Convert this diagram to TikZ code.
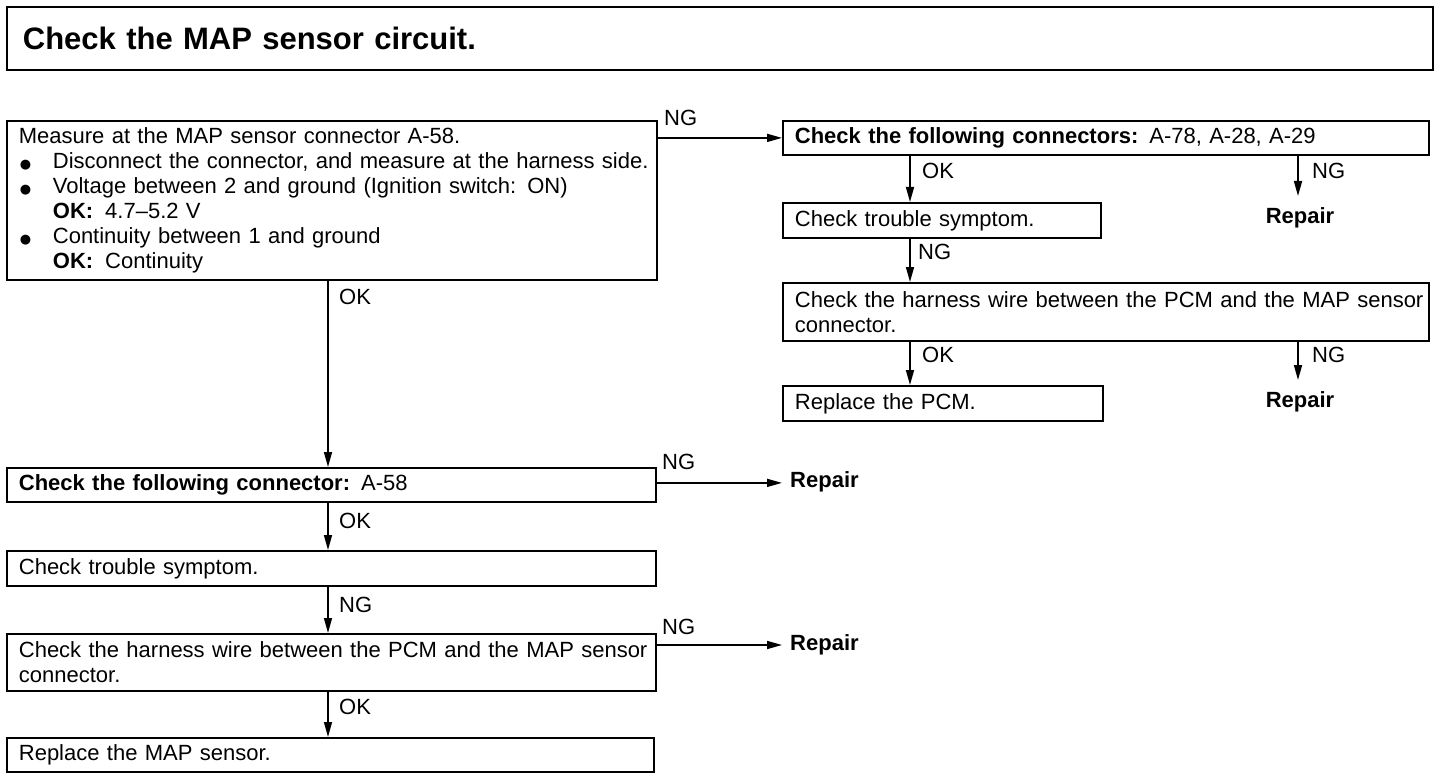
\documentclass[tikz,border=0pt]{standalone}
\usepackage{fontspec}
\setmainfont{Liberation Sans}[WordSpace=2]
\newfontfamily\dv{DejaVu Sans}
\usetikzlibrary{arrows.meta}
\newcommand\fs{\fontsize{22}{25}\selectfont}
\newcommand\bul{\makebox[34pt][l]{\hspace{1pt}{\dv\fontsize{13}{13}\selectfont ●}}}
\newcommand\okind{\hspace*{34pt}}
\tikzset{
  box/.style={draw, line width=1.8pt, anchor=north west, inner xsep=12pt, inner ysep=0pt, align=left, font=\fs},
  arr/.style={line width=1.6pt, -{Triangle[length=15pt,width=8pt]}},
  lbl/.style={font=\fs, inner sep=0pt, anchor=west},
  rep/.style={font=\fs\bfseries, inner sep=0pt, text height=15pt, text depth=4pt},
}
\begin{document}
\begin{tikzpicture}[x=1pt,y=-1pt]
\useasboundingbox (0,0) rectangle (1440,778);
\node[box, font=\fontsize{31}{32}\selectfont\bfseries, inner xsep=16pt, minimum width=1426pt, minimum height=63pt, text width=1394pt] (title) at (6,6) {Check the MAP sensor circuit.};
% left column
\node[box, minimum width=650pt, minimum height=159pt, text width=626pt] (b1) at (6,120) {\mbox{Measure at the MAP sensor connector A-58.}\\
\mbox{\bul Disconnect the connector, and measure at the harness side.}\\
\mbox{\bul Voltage between 2 and ground (Ignition switch: ON)}\\
\mbox{\okind\textbf{OK:}\hspace{12pt}4.7–5.2 V}\\
\mbox{\bul Continuity between 1 and ground}\\
\mbox{\okind\textbf{OK:}\hspace{12pt}Continuity}};
\node[box, minimum width=649pt, minimum height=34pt, text width=625pt] (b6) at (6,467) {\textbf{Check the following connector:} A-58};
\node[box, minimum width=649pt, minimum height=35pt, text width=625pt] (b7) at (6,550) {Check trouble symptom.};
\node[box, minimum width=649pt, minimum height=57pt, text width=625pt] (b8) at (6,633) {\mbox{Check the harness wire between the PCM and the MAP sensor}\\connector.};
\node[box, minimum width=647pt, minimum height=34pt, text width=623pt] (b9) at (6,737) {Replace the MAP sensor.};
% right column
\node[box, minimum width=646pt, minimum height=34pt, text width=622pt] (b2) at (782,120) {\textbf{Check the following connectors:} A-78, A-28, A-29};
\node[box, minimum width=318pt, minimum height=35pt, text width=294pt] (b3) at (782,202) {Check trouble symptom.};
\node[box, minimum width=646pt, minimum height=58pt, text width=622pt] (b4) at (782,282) {\mbox{Check the harness wire between the PCM and the MAP sensor}\\connector.};
\node[box, minimum width=320pt, minimum height=35pt, text width=296pt] (b5) at (782,385) {Replace the PCM.};
% repair nodes
\node[rep, anchor=north] (rp1) at (1300,208) {Repair};
\node[rep, anchor=north] (rp2) at (1300,392) {Repair};
\node[rep, anchor=west] (rl1) at (790,482) {Repair};
\node[rep, anchor=west] (rl2) at (790,645) {Repair};
% guide coordinates
\coordinate (xl) at (328,0);
\coordinate (xr1) at (910,0);
\coordinate (xr2) at (1298,0);
% connectors
\draw[arr] (b2.west -| b1.east) -- (b2.west);
\draw[arr] (b1.south -| xl) -- (b6.north -| xl);
\draw[arr, shorten >=8pt] ([yshift=2pt]b6.east) -- ([yshift=2pt]b6.east -| rl1.west);
\draw[arr] (b6.south -| xl) -- (b7.north -| xl);
\draw[arr] (b7.south -| xl) -- (b8.north -| xl);
\draw[arr, shorten >=8pt] ([yshift=-12pt]b8.north east) -- (rl2.west);
\draw[arr] (b8.south -| xl) -- (b9.north -| xl);
\draw[arr] (b2.south -| xr1) -- (b3.north -| xr1);
\draw[arr] (b2.south -| xr2) -- ([yshift=12pt]rp1.north -| xr2);
\draw[arr] (b3.south -| xr1) -- (b4.north -| xr1);
\draw[arr] (b4.south -| xr1) -- (b5.north -| xr1);
\draw[arr] (b4.south -| xr2) -- ([yshift=12pt]rp2.north -| xr2);
% labels
\node[lbl] (l1) at (664,118) {NG};
\node[lbl] (l2) at (339,297) {OK};
\node[lbl] (l3) at (662,462) {NG};
\node[lbl] (l4) at (339,521) {OK};
\node[lbl] (l5) at (339,605) {NG};
\node[lbl] (l6) at (662,627) {NG};
\node[lbl] (l7) at (339,707) {OK};
\node[lbl] (l8) at (922,171) {OK};
\node[lbl] (l9) at (1312,171) {NG};
\node[lbl] (l10) at (918,252) {NG};
\node[lbl] (l11) at (922,355) {OK};
\node[lbl] (l12) at (1312,355) {NG};
\end{tikzpicture}
\end{document}
